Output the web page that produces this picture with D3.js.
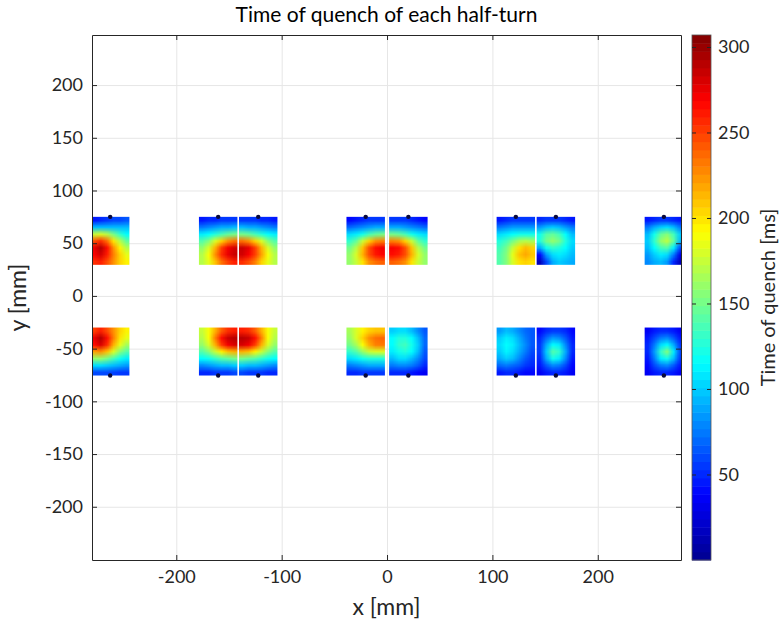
<!DOCTYPE html>
<html>
<head>
<meta charset="utf-8">
<script src="https://cdn.jsdelivr.net/npm/d3@7"></script>
<style>
  body { margin: 0; background: #fff; }
  text { font-family: Lato, "Open Sans", sans-serif; }
</style>
</head>
<body>
<div id="chart"></div>
<script>
// block extents in mm (left edges of each half-turn, width, y bands)
var blockLeft = [-281, -178.5, -140.5, -38.5, 2, 104, 142, 244.5];
var blockWidth = 36.5;
var topBand = [29.5, 75];
var botBand = [-75.5, -30];

// time of quench [ms], 7 rows (top -> bottom) x 6 cols (left -> right)
var top1 = [
    [45, 50, 55, 60, 60, 65],
    [95, 95, 95, 95, 95, 95],
    [175, 180, 170, 150, 130, 115],
    [245, 255, 235, 200, 170, 145],
    [275, 292, 265, 225, 195, 170],
    [270, 282, 260, 230, 205, 185],
    [255, 260, 245, 225, 205, 195]];
var top2 = [
    [45, 50, 50, 55, 55, 55],
    [75, 80, 85, 90, 90, 95],
    [110, 115, 125, 135, 145, 150],
    [140, 155, 180, 205, 225, 235],
    [160, 180, 215, 250, 272, 282],
    [170, 190, 225, 255, 275, 285],
    [170, 185, 210, 235, 250, 260]];
var top3 = [
    [55, 55, 55, 50, 50, 45],
    [95, 90, 90, 85, 80, 75],
    [150, 145, 135, 125, 115, 110],
    [235, 225, 205, 180, 155, 140],
    [285, 275, 250, 215, 180, 160],
    [282, 270, 250, 220, 190, 170],
    [255, 245, 230, 205, 185, 170]];
var top4 = [
    [40, 45, 50, 55, 55, 55],
    [70, 75, 80, 85, 90, 90],
    [105, 110, 120, 135, 145, 150],
    [130, 145, 175, 205, 225, 230],
    [150, 170, 210, 245, 265, 272],
    [160, 180, 215, 245, 262, 268],
    [160, 175, 200, 225, 235, 240]];
var top5 = [
    [55, 55, 55, 50, 45, 40],
    [90, 90, 85, 80, 75, 70],
    [150, 145, 135, 120, 110, 105],
    [230, 225, 205, 175, 145, 130],
    [270, 265, 245, 210, 170, 150],
    [265, 260, 245, 215, 180, 160],
    [240, 235, 225, 200, 175, 160]];
var top6 = [
    [45, 50, 55, 55, 55, 55],
    [75, 80, 85, 85, 85, 85],
    [105, 110, 115, 120, 120, 120],
    [125, 135, 150, 165, 170, 165],
    [135, 150, 175, 200, 212, 205],
    [140, 155, 185, 210, 218, 210],
    [140, 155, 180, 200, 205, 200]];
var top7 = [
    [50, 55, 55, 55, 50, 45],
    [85, 95, 100, 95, 85, 75],
    [120, 140, 145, 135, 115, 95],
    [125, 150, 160, 150, 125, 105],
    [90, 120, 130, 125, 115, 100],
    [40, 85, 105, 110, 105, 95],
    [15, 60, 90, 100, 95, 90]];
var top8 = [
    [45, 50, 55, 55, 50, 45],
    [75, 90, 100, 105, 95, 75],
    [95, 120, 145, 155, 135, 100],
    [100, 130, 160, 172, 145, 95],
    [95, 115, 135, 140, 110, 60],
    [85, 100, 110, 105, 75, 30],
    [80, 90, 95, 85, 50, 15]];

var bot1 = [
    [250, 260, 245, 225, 205, 195],
    [275, 292, 265, 230, 200, 185],
    [265, 280, 255, 215, 185, 165],
    [220, 225, 210, 180, 155, 140],
    [160, 160, 150, 135, 120, 110],
    [105, 105, 100, 95, 90, 85],
    [60, 60, 60, 58, 55, 55]];
var bot2 = [
    [175, 190, 215, 240, 255, 260],
    [170, 190, 230, 265, 285, 290],
    [160, 180, 215, 250, 272, 280],
    [140, 155, 175, 195, 210, 215],
    [115, 120, 130, 140, 145, 150],
    [80, 85, 90, 95, 95, 100],
    [50, 50, 55, 55, 55, 60]];
var bot3 = [
    [260, 255, 240, 215, 190, 175],
    [290, 285, 265, 230, 190, 170],
    [280, 272, 250, 215, 180, 160],
    [215, 210, 195, 175, 155, 140],
    [150, 145, 140, 130, 120, 115],
    [100, 95, 95, 90, 85, 80],
    [60, 55, 55, 55, 50, 50]];
var bot4 = [
    [165, 180, 195, 205, 210, 210],
    [160, 180, 205, 225, 235, 238],
    [150, 165, 190, 215, 230, 232],
    [130, 140, 160, 175, 180, 180],
    [105, 110, 120, 125, 125, 125],
    [75, 80, 85, 90, 90, 90],
    [50, 50, 55, 55, 55, 55]];
var bot5 = [
    [100, 105, 105, 95, 80, 65],
    [115, 125, 125, 115, 95, 70],
    [115, 130, 135, 120, 100, 70],
    [110, 120, 125, 115, 95, 65],
    [95, 105, 105, 95, 80, 60],
    [75, 80, 80, 75, 65, 50],
    [50, 50, 50, 45, 40, 35]];
var bot6 = [
    [85, 95, 90, 80, 70, 65],
    [100, 110, 105, 90, 75, 65],
    [105, 115, 110, 95, 80, 65],
    [100, 112, 105, 90, 75, 60],
    [90, 100, 95, 80, 65, 55],
    [70, 75, 70, 65, 55, 50],
    [45, 50, 50, 45, 40, 40]];
var bot7 = [
    [40, 50, 55, 55, 50, 40],
    [50, 70, 85, 80, 65, 45],
    [55, 90, 115, 110, 80, 50],
    [55, 100, 140, 130, 90, 50],
    [50, 90, 120, 110, 80, 45],
    [45, 65, 80, 75, 60, 40],
    [35, 45, 50, 50, 45, 35]];
var bot8 = [
    [35, 45, 50, 50, 45, 35],
    [45, 60, 75, 80, 65, 45],
    [50, 75, 105, 115, 90, 55],
    [50, 85, 130, 155, 110, 60],
    [45, 75, 110, 120, 95, 55],
    [40, 60, 75, 80, 65, 45],
    [35, 45, 50, 50, 45, 35]];

var topGrids = [top1, top2, top3, top4, top5, top6, top7, top8];
var botGrids = [bot1, bot2, bot3, bot4, bot5, bot6, bot7, bot8];

var xTicks = [-200, -100, 0, 100, 200];
var yTicks = [-200, -150, -100, -50, 0, 50, 100, 150, 200];
var cTicks = [50, 100, 150, 200, 250, 300];
var cMax = 307;

var chart_width = 781;
var chart_height = 627;
var m = {left: 92, top: 35, right: 681, bottom: 560};

var svg = d3.select('#chart')
    .append('svg')
    .attr('width', chart_width)
    .attr('height', chart_height);

var x_scale = d3.scaleLinear().domain([-280, 279]).range([m.left, m.right]);
var y_scale = d3.scaleLinear().domain([-250.5, 247.5]).range([m.bottom, m.top]);

// jet colormap
var jet = ['#00008f', '#0000ff', '#00ffff', '#ffff00', '#ff0000', '#800000'];
var c_scale = d3.scaleLinear()
    .domain([0, 0.125, 0.375, 0.625, 0.875, 1].map(t => t * cMax))
    .range(jet)
    .clamp(true);

// plain hyphen for negatives, like the original
var fmt = d => String(d);

// grid lines
svg.append('g')
    .attr('transform', `translate(0, ${m.bottom})`)
    .call(d3.axisBottom(x_scale).tickValues(xTicks).tickSize(-(m.bottom - m.top)).tickFormat(''))
    .call(g => g.select('.domain').remove())
    .selectAll('line').attr('stroke', '#e6e6e6');

svg.append('g')
    .attr('transform', `translate(${m.left}, 0)`)
    .call(d3.axisLeft(y_scale).tickValues(yTicks).tickSize(-(m.right - m.left)).tickFormat(''))
    .call(g => g.select('.domain').remove())
    .selectAll('line').attr('stroke', '#e6e6e6');

// heat blocks
svg.append('clipPath').attr('id', 'plotclip')
    .append('rect')
    .attr('x', m.left).attr('y', m.top)
    .attr('width', m.right - m.left).attr('height', m.bottom - m.top);

function gridImage(grid) {
    var rows = grid.length, cols = grid[0].length;
    var cv = document.createElement('canvas');
    cv.width = cols; cv.height = rows;
    var ctx = cv.getContext('2d');
    var img = ctx.createImageData(cols, rows);
    grid.forEach((row, r) => row.forEach((v, c) => {
        var col = d3.rgb(c_scale(v));
        var k = (r * cols + c) * 4;
        img.data[k] = col.r; img.data[k + 1] = col.g; img.data[k + 2] = col.b; img.data[k + 3] = 255;
    }));
    ctx.putImageData(img, 0, 0);
    return cv.toDataURL();
}

var blocks = [];
blockLeft.forEach((x0, i) => {
    blocks.push({x0: x0, band: topBand, grid: topGrids[i], dotY: topBand[1]});
    blocks.push({x0: x0, band: botBand, grid: botGrids[i], dotY: botBand[0]});
});

var heat = svg.append('g').attr('clip-path', 'url(#plotclip)');

heat.selectAll('image')
    .data(blocks)
    .enter()
    .append('image')
    .attr('href', d => gridImage(d.grid))
    .attr('preserveAspectRatio', 'none')
    .attr('x', d => x_scale(d.x0))
    .attr('y', d => y_scale(d.band[1]))
    .attr('width', d => x_scale(d.x0 + blockWidth) - x_scale(d.x0))
    .attr('height', d => y_scale(d.band[0]) - y_scale(d.band[1]))
    .style('image-rendering', 'auto');

heat.selectAll('circle')
    .data(blocks)
    .enter()
    .append('circle')
    .attr('cx', d => x_scale(d.x0 + blockWidth / 2))
    .attr('cy', d => y_scale(d.dotY))
    .attr('r', 2.2)
    .attr('fill', '#0a0a3c');

// axes box
var axisColor = '#262626';
function styleAxis(g) {
    g.selectAll('.domain').attr('stroke', axisColor);
    g.selectAll('line').attr('stroke', axisColor);
    g.selectAll('text').attr('fill', axisColor).style('font-size', '18px');
}

svg.append('g')
    .attr('transform', `translate(0, ${m.bottom})`)
    .call(d3.axisBottom(x_scale).tickValues(xTicks).tickFormat(fmt).tickSizeInner(-5).tickSizeOuter(0).tickPadding(10))
    .call(styleAxis);
svg.append('g')
    .attr('transform', `translate(0, ${m.top})`)
    .call(d3.axisTop(x_scale).tickValues(xTicks).tickSizeInner(-5).tickSizeOuter(0).tickFormat(''))
    .call(styleAxis);
svg.append('g')
    .attr('transform', `translate(${m.left}, 0)`)
    .call(d3.axisLeft(y_scale).tickValues(yTicks).tickFormat(fmt).tickSizeInner(-5).tickSizeOuter(0).tickPadding(9))
    .call(styleAxis);
svg.append('g')
    .attr('transform', `translate(${m.right}, 0)`)
    .call(d3.axisRight(y_scale).tickValues(yTicks).tickSizeInner(-5).tickSizeOuter(0).tickFormat(''))
    .call(styleAxis);

// titles
svg.append('text')
    .attr('x', (m.left + m.right) / 2)
    .attr('y', 22)
    .attr('text-anchor', 'middle')
    .style('font-size', '21px')
    .attr('fill', '#000')
    .text('Time of quench of each half-turn');

svg.append('text')
    .attr('x', (m.left + m.right) / 2)
    .attr('y', 615)
    .attr('text-anchor', 'middle')
    .style('font-size', '23px')
    .attr('fill', axisColor)
    .text('x [mm]');

svg.append('text')
    .attr('transform', `translate(26, ${(m.top + m.bottom) / 2}) rotate(-90)`)
    .attr('text-anchor', 'middle')
    .style('font-size', '23px')
    .attr('fill', axisColor)
    .text('y [mm]');

// colorbar
var cb = {x: 692, w: 19};
var cb_scale = d3.scaleLinear().domain([0, cMax]).range([m.bottom, m.top]);
var levels = d3.range(64);
svg.append('g').selectAll('rect')
    .data(levels)
    .enter()
    .append('rect')
    .attr('x', cb.x)
    .attr('width', cb.w)
    .attr('y', d => cb_scale((d + 1) * cMax / 64))
    .attr('height', d => cb_scale(d * cMax / 64) - cb_scale((d + 1) * cMax / 64) + 0.5)
    .attr('fill', d => c_scale((d + 0.5) * cMax / 64));

svg.append('rect')
    .attr('x', cb.x).attr('y', m.top)
    .attr('width', cb.w).attr('height', m.bottom - m.top)
    .attr('fill', 'none').attr('stroke', '#555').attr('stroke-width', 0.8);

svg.append('g')
    .attr('transform', `translate(${cb.x + cb.w}, 0)`)
    .call(d3.axisRight(cb_scale).tickValues(cTicks).tickFormat(fmt).tickSizeInner(-4).tickSizeOuter(0).tickPadding(7))
    .call(styleAxis)
    .call(g => g.select('.domain').remove());

svg.append('g')
    .attr('transform', `translate(${cb.x}, 0)`)
    .call(d3.axisLeft(cb_scale).tickValues(cTicks).tickSizeInner(-4).tickSizeOuter(0).tickFormat(''))
    .call(styleAxis)
    .call(g => g.select('.domain').remove());

svg.append('text')
    .attr('transform', `translate(775, ${(m.top + m.bottom) / 2}) rotate(-90)`)
    .attr('text-anchor', 'middle')
    .style('font-size', '20px')
    .attr('fill', axisColor)
    .text('Time of quench [ms]');
</script>
</body>
</html>
